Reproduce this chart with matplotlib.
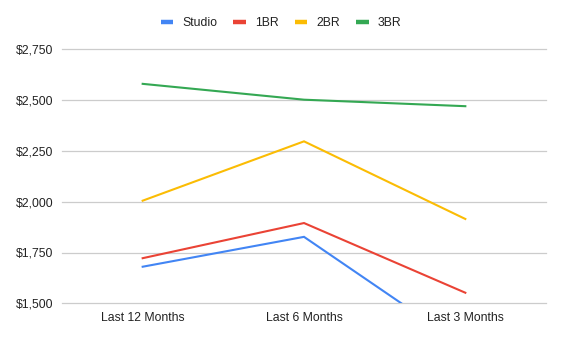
import matplotlib
matplotlib.use("Agg")
import matplotlib.pyplot as plt
from matplotlib.lines import Line2D
from matplotlib.ticker import FuncFormatter

periods = ["Last 12 Months", "Last 6 Months", "Last 3 Months"]
studio = [1680, 1827, 1285]
one_br = [1722, 1895, 1552]
two_br = [2005, 2297, 1915]
three_br = [2580, 2502, 2470]

series_names = ["Studio", "1BR", "2BR", "3BR"]
series_values = [studio, one_br, two_br, three_br]
colors = ["#4285F4", "#EA4335", "#FBBC04", "#34A853"]
y_ticks = [1500, 1750, 2000, 2250, 2500, 2750]

plt.rcParams["font.family"] = ["Liberation Sans", "DejaVu Sans"]
text_color = "#222222"
fs = 8.8

fig = plt.figure(figsize=(5.62, 3.40), dpi=100)
ax = fig.add_axes([62 / 562, 1 - 303.3 / 340, (546 - 62) / 562, (303.3 - 49.3) / 340])

x = list(range(len(periods)))
for name, vals, c in zip(series_names, series_values, colors):
    ax.plot(x, vals, color=c, lw=1.5, solid_joinstyle="miter", label=name, zorder=3)

ax.set_xlim(-0.5, len(periods) - 0.5)
ax.set_ylim(y_ticks[0], y_ticks[-1])
ax.set_yticks(y_ticks)
ax.yaxis.set_major_formatter(FuncFormatter(lambda v, p: f"${v:,.0f}"))
ax.set_xticks(x)
ax.set_xticklabels(periods)
ax.tick_params(axis="both", length=0, labelsize=fs, colors=text_color)
ax.tick_params(axis="y", pad=6)
ax.tick_params(axis="x", pad=6)
ax.grid(axis="y", color="#cccccc", lw=0.9, zorder=0)
for gl in ax.get_ygridlines():
    gl.set_clip_on(False)
for s in ax.spines.values():
    s.set_visible(False)

handles = [Line2D([0], [0], color=c, lw=3.2, solid_capstyle="butt") for c in colors]
fig.legend(handles, series_names, loc="center", bbox_to_anchor=(0.5, 1 - 23.5 / 340),
           ncol=4, frameon=False, fontsize=fs, handlelength=1.0, handletextpad=0.75,
           columnspacing=1.35, labelcolor=text_color)

fig.savefig("out.png", dpi=100, facecolor="white")
